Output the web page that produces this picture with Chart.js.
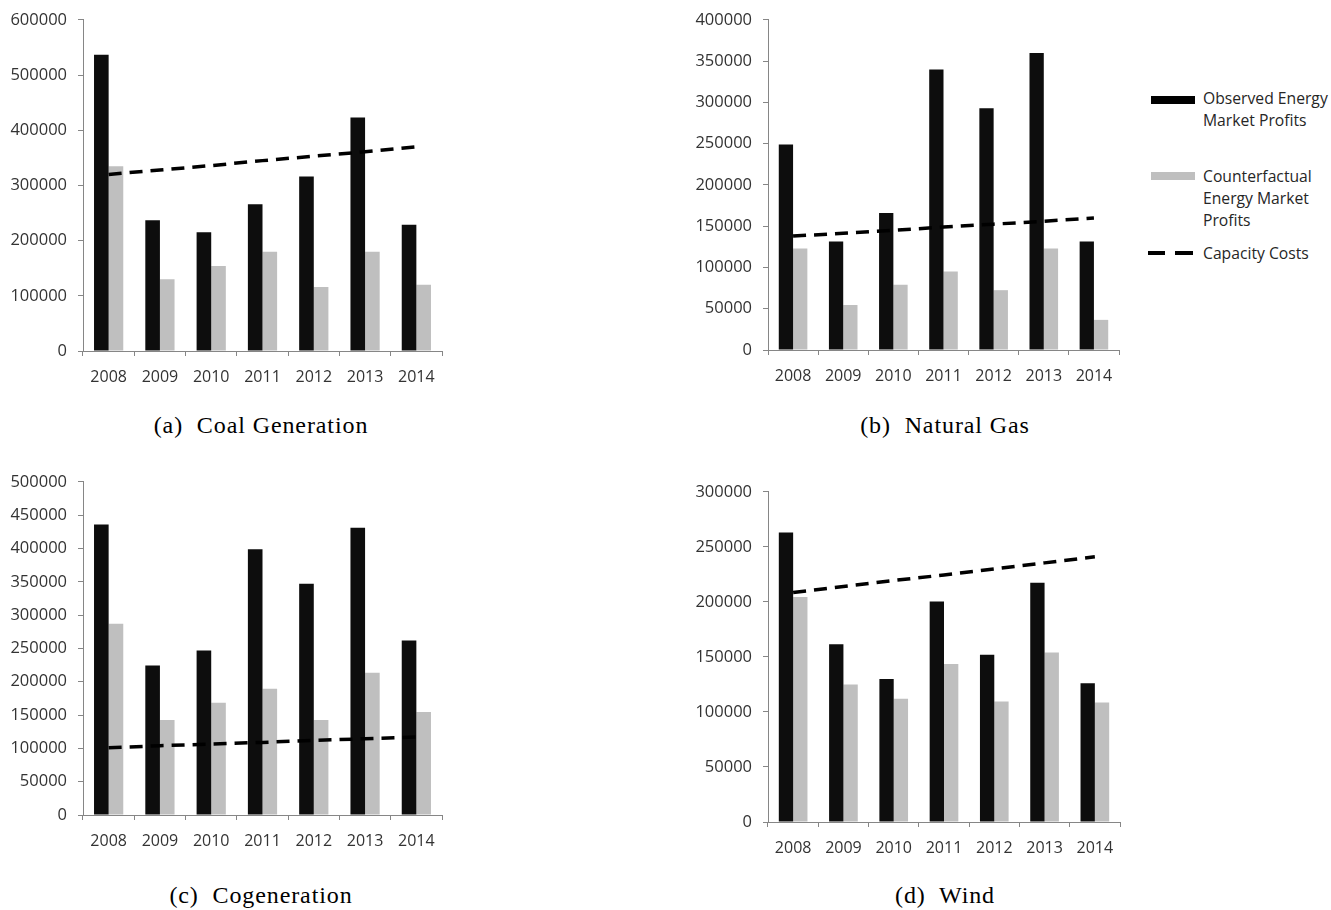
<!DOCTYPE html>
<html>
<head>
<meta charset="utf-8">
<script src="https://cdn.jsdelivr.net/npm/chart.js@4"></script>
<style>
  body { margin: 0; background: #fff; width: 1331px; height: 910px; position: relative; overflow: hidden; }
  .box { position: absolute; }
  .cap { position: absolute; font-family: "Liberation Serif", serif; font-size: 24px; color: #000; text-align: center; width: 400px; letter-spacing: 0.9px; }
  .leg { position: absolute; font-family: "Open Sans", sans-serif; font-size: 15.7px; line-height: 22px; color: #262626; }
  .sw { position: absolute; }
</style>
</head>
<body>

<div class="box" id="boxA"><canvas id="chartA"></canvas></div>
<div class="box" id="boxB"><canvas id="chartB"></canvas></div>
<div class="box" id="boxC"><canvas id="chartC"></canvas></div>
<div class="box" id="boxD"><canvas id="chartD"></canvas></div>

<div class="cap" style="left:61px; top:412px;">(a)&nbsp; Coal Generation</div>
<div class="cap" style="left:745px; top:412px;">(b)&nbsp; Natural Gas</div>
<div class="cap" style="left:61px; top:882px;">(c)&nbsp; Cogeneration</div>
<div class="cap" style="left:745px; top:882px;">(d)&nbsp; Wind</div>

<!-- legend -->
<div class="sw" style="left:1151px; top:96px; width:44px; height:8px; background:#000;"></div>
<div class="leg" style="left:1203px; top:87px;">Observed Energy<br>Market Profits</div>
<div class="sw" style="left:1151px; top:172px; width:44px; height:8px; background:#bfbfbf;"></div>
<div class="leg" style="left:1203px; top:165px;">Counterfactual<br>Energy Market<br>Profits</div>
<div class="sw" style="left:1148px; top:251px; width:17px; height:4px; background:#000;"></div>
<div class="sw" style="left:1175px; top:251px; width:18px; height:4px; background:#000;"></div>
<div class="leg" style="left:1203px; top:242px;">Capacity Costs</div>

<script>
// categories
var years = ['2008', '2009', '2010', '2011', '2012', '2013', '2014'];

// (a) coal generation
var coalObserved = [537000, 237000, 215000, 266000, 316000, 423000, 229000];
var coalCounter  = [335000, 130000, 154000, 180000, 116000, 180000, 120000];
var coalCapacity = [320000, 328000, 336000, 345000, 353000, 361000, 370000];
var coalTicks = [0, 600000, 100000];   // min, max, step

// (b) natural gas
var gasObserved = [249000, 131500, 166000, 340000, 293000, 360000, 131500];
var gasCounter  = [123000, 54500, 79000, 95000, 72500, 123000, 36500];
var gasCapacity = [138000, 141500, 145000, 149000, 152500, 156000, 160000];
var gasTicks = [0, 400000, 50000];

// (c) cogeneration
var cogObserved = [436000, 224500, 247000, 399000, 347000, 431000, 262000];
var cogCounter  = [287000, 142500, 168500, 189500, 142500, 213500, 154500];
var cogCapacity = [101000, 104000, 106500, 109000, 112000, 114500, 117000];
var cogTicks = [0, 500000, 50000];

// (d) wind
var windObserved = [263000, 161500, 130000, 200500, 152000, 217500, 126000];
var windCounter  = [204500, 125000, 112000, 143500, 109500, 154000, 108500];
var windCapacity = [208500, 214000, 219500, 224500, 230000, 235500, 241000];
var windTicks = [0, 300000, 50000];

var axisColor = '#868686';
var labelColor = '#333333';
var tickFont = { family: 'Open Sans', size: 16 };

function makeChart(canvasId, boxId, area, observed, counter, capacity, ticks) {
    // area: plot rectangle on the page [left, right, top, bottom]
    var yw = 80, xh = 44, padTop = 20, padRight = 20;
    var box = document.getElementById(boxId);
    var cv = document.getElementById(canvasId);
    var w = area[1] - area[0] + yw + padRight;
    var h = area[3] - area[2] + padTop + xh;
    box.style.left = (area[0] - yw) + 'px';
    box.style.top = (area[2] - padTop) + 'px';
    cv.width = w; cv.height = h;
    cv.style.width = w + 'px'; cv.style.height = h + 'px';

    return new Chart(cv, {
        data: {
            labels: years,
            datasets: [
                {
                    type: 'line',
                    label: 'Capacity Costs',
                    data: capacity,
                    borderColor: '#000',
                    borderWidth: 3.5,
                    borderDash: [13, 8],
                    pointRadius: 0,
                    tension: 0,
                    fill: false,
                    order: 0
                },
                {
                    type: 'bar',
                    label: 'Observed Energy Market Profits',
                    data: observed,
                    backgroundColor: '#0d0d0d',
                    categoryPercentage: 0.57,
                    barPercentage: 1.0,
                    order: 1
                },
                {
                    type: 'bar',
                    label: 'Counterfactual Energy Market Profits',
                    data: counter,
                    backgroundColor: '#bfbfbf',
                    categoryPercentage: 0.57,
                    barPercentage: 1.0,
                    order: 2
                }
            ]
        },
        options: {
            responsive: false,
            animation: false,
            devicePixelRatio: 1,
            layout: { padding: { top: padTop, right: padRight, left: 0, bottom: 0 } },
            plugins: { legend: { display: false }, tooltip: { enabled: false } },
            scales: {
                x: {
                    type: 'category',
                    offset: true,
                    grid: { offset: true, drawOnChartArea: false, drawTicks: true, tickLength: 5, color: axisColor, lineWidth: 1 },
                    border: { display: true, color: axisColor, width: 1 },
                    ticks: { color: labelColor, font: tickFont, padding: 12, maxRotation: 0, autoSkip: false },
                    afterFit: function (s) { s.height = xh; }
                },
                y: {
                    min: ticks[0],
                    max: ticks[1],
                    grid: { drawOnChartArea: false, drawTicks: true, tickLength: 5, color: axisColor, lineWidth: 1 },
                    border: { display: true, color: axisColor, width: 1 },
                    ticks: {
                        stepSize: ticks[2],
                        color: labelColor,
                        font: { family: 'Open Sans', size: 16.5 },
                        padding: 11,
                        callback: function (v) { return String(v); }
                    },
                    afterFit: function (s) { s.width = yw; }
                }
            }
        }
    });
}

makeChart('chartA', 'boxA', [83, 442, 19, 351], coalObserved, coalCounter, coalCapacity, coalTicks);
makeChart('chartB', 'boxB', [768, 1119, 19, 350], gasObserved, gasCounter, gasCapacity, gasTicks);
makeChart('chartC', 'boxC', [83, 442, 481, 815], cogObserved, cogCounter, cogCapacity, cogTicks);
makeChart('chartD', 'boxD', [768, 1120, 491, 822], windObserved, windCounter, windCapacity, windTicks);
</script>
</body>
</html>
